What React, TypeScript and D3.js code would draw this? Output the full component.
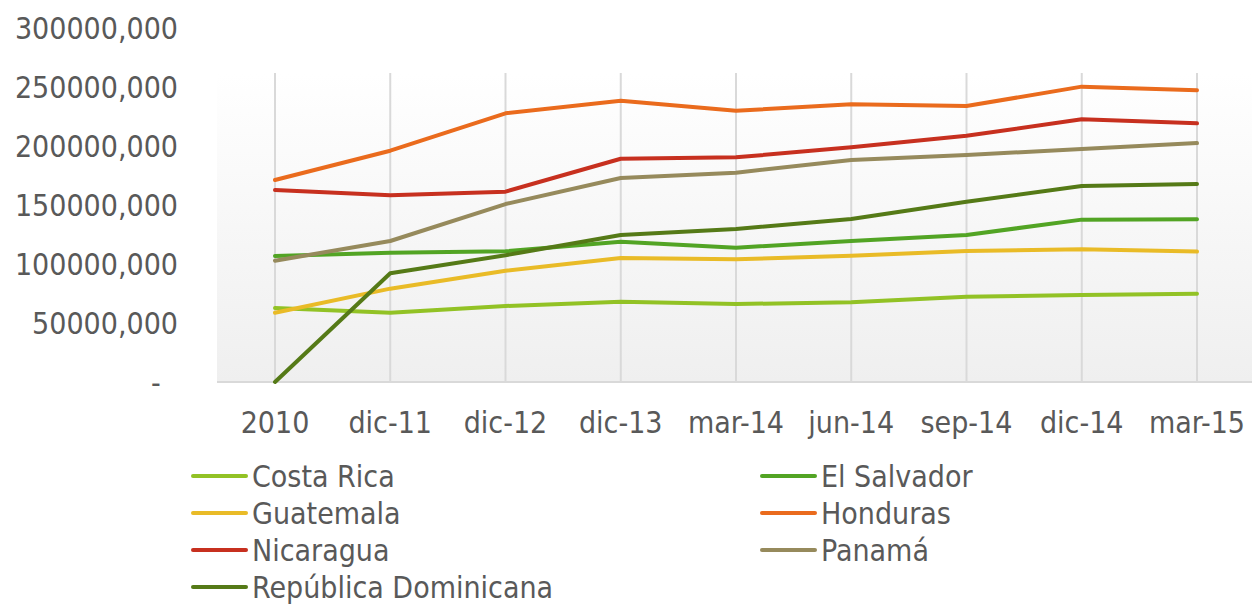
import { useEffect, useRef } from "react";
import * as d3 from "d3";

const categories = ["2010", "dic-11", "dic-12", "dic-13", "mar-14", "jun-14", "sep-14", "dic-14", "mar-15"];

const costaRica = [62.7, 58.7, 64.4, 68.1, 66.1, 67.5, 72.3, 73.7, 74.8];
const elSalvador = [106.8, 109.6, 110.8, 118.9, 113.8, 119.5, 124.6, 137.6, 137.9];
const guatemala = [58.7, 79.1, 94.3, 105.1, 104.0, 107.0, 111.0, 112.5, 110.5];
const honduras = [171.2, 196.0, 227.7, 238.4, 229.9, 235.3, 233.9, 250.3, 247.2];
const nicaragua = [162.7, 158.2, 161.3, 189.2, 190.4, 198.9, 208.7, 222.6, 219.2];
const panama = [102.8, 119.5, 150.8, 172.9, 177.4, 188.1, 192.4, 197.5, 202.5];
const repDominicana = [0, 92.1, 107.4, 124.6, 129.7, 138.1, 152.8, 166.1, 167.8];

const yTicks = [0, 50, 100, 150, 200, 250, 300];
const yTickLabels = ["-\u00a0\u00a0", "50000,000", "100000,000", "150000,000", "200000,000", "250000,000", "300000,000"];

const series = [
  { name: "Costa Rica", values: costaRica, color: "#92c225" },
  { name: "El Salvador", values: elSalvador, color: "#52a424" },
  { name: "Guatemala", values: guatemala, color: "#e9bb27" },
  { name: "Honduras", values: honduras, color: "#ea6b1d" },
  { name: "Nicaragua", values: nicaragua, color: "#c7301f" },
  { name: "Panamá", values: panama, color: "#968a5c" },
  { name: "República Dominicana", values: repDominicana, color: "#557a17" },
];

const FONT = "'DejaVu Sans Condensed', 'DejaVu Sans', sans-serif";
const TEXT = "#595959";

const App = () => {
  const svgRef = useRef<SVGSVGElement | null>(null);
  const width = 1252;
  const height = 606;

  useEffect(() => {
    const svg = d3.select(svgRef.current);
    svg.selectAll("*").remove();

    const plotLeft = 217;
    const plotTop = 73;
    const plotBottom = 382;

    const x = d3.scalePoint<string>()
      .domain(categories)
      .range([275, 1197]);

    const y = d3.scaleLinear()
      .domain([0, 300])
      .range([plotBottom, 28]);

    // plot background gradient
    const defs = svg.append("defs");
    const grad = defs.append("linearGradient")
      .attr("id", "bg")
      .attr("x1", 0).attr("y1", 0).attr("x2", 0).attr("y2", 1);
    grad.append("stop").attr("offset", "0%").attr("stop-color", "#ffffff");
    grad.append("stop").attr("offset", "100%").attr("stop-color", "#efefef");

    svg.append("rect")
      .attr("x", plotLeft)
      .attr("y", plotTop)
      .attr("width", width - plotLeft)
      .attr("height", plotBottom - plotTop)
      .attr("fill", "url(#bg)");

    // vertical gridlines
    svg.append("g")
      .selectAll("line")
      .data(categories)
      .join("line")
      .attr("x1", d => x(d)!)
      .attr("x2", d => x(d)!)
      .attr("y1", plotTop)
      .attr("y2", plotBottom)
      .attr("stroke", "#d9d9d9")
      .attr("stroke-width", 2);

    // baseline
    svg.append("line")
      .attr("x1", plotLeft)
      .attr("x2", width)
      .attr("y1", plotBottom)
      .attr("y2", plotBottom)
      .attr("stroke", "#d9d9d9")
      .attr("stroke-width", 2);

    // y labels
    svg.append("g")
      .selectAll("text")
      .data(yTicks)
      .join("text")
      .attr("x", 178)
      .attr("y", d => y(d))
      .attr("dy", "0.36em")
      .attr("text-anchor", "end")
      .attr("font-family", FONT)
      .attr("font-size", 30)
      .attr("fill", TEXT)
      .text((d, i) => yTickLabels[i]);

    // x labels
    svg.append("g")
      .selectAll("text")
      .data(categories)
      .join("text")
      .attr("x", d => x(d)!)
      .attr("y", 422)
      .attr("dy", "0.36em")
      .attr("text-anchor", "middle")
      .attr("font-family", FONT)
      .attr("font-size", 30)
      .attr("fill", TEXT)
      .text(d => d);

    // lines
    const line = d3.line<number>()
      .x((d, i) => x(categories[i])!)
      .y(d => y(d));

    svg.append("g")
      .selectAll("path")
      .data(series)
      .join("path")
      .attr("d", d => line(d.values))
      .attr("fill", "none")
      .attr("stroke", d => d.color)
      .attr("stroke-width", 4)
      .attr("stroke-linejoin", "round")
      .attr("stroke-linecap", "round");

    // legend
    const legend = svg.append("g")
      .selectAll("g")
      .data(series)
      .join("g")
      .attr("transform", (d, i) => `translate(${i % 2 === 0 ? 193 : 762},${476 + Math.floor(i / 2) * 37})`);

    legend.append("line")
      .attr("x1", 0)
      .attr("x2", 53)
      .attr("stroke", d => d.color)
      .attr("stroke-width", 4)
      .attr("stroke-linecap", "round");

    legend.append("text")
      .attr("x", 59)
      .attr("dy", "0.36em")
      .attr("font-family", FONT)
      .attr("font-size", 30)
      .attr("fill", TEXT)
      .text(d => d.name);
  }, []);

  return (
    <svg
      ref={svgRef}
      width={width}
      height={height}
      style={{ position: "absolute", left: 0, top: 0, background: "#ffffff" }}
    />
  );
};

export default App;
